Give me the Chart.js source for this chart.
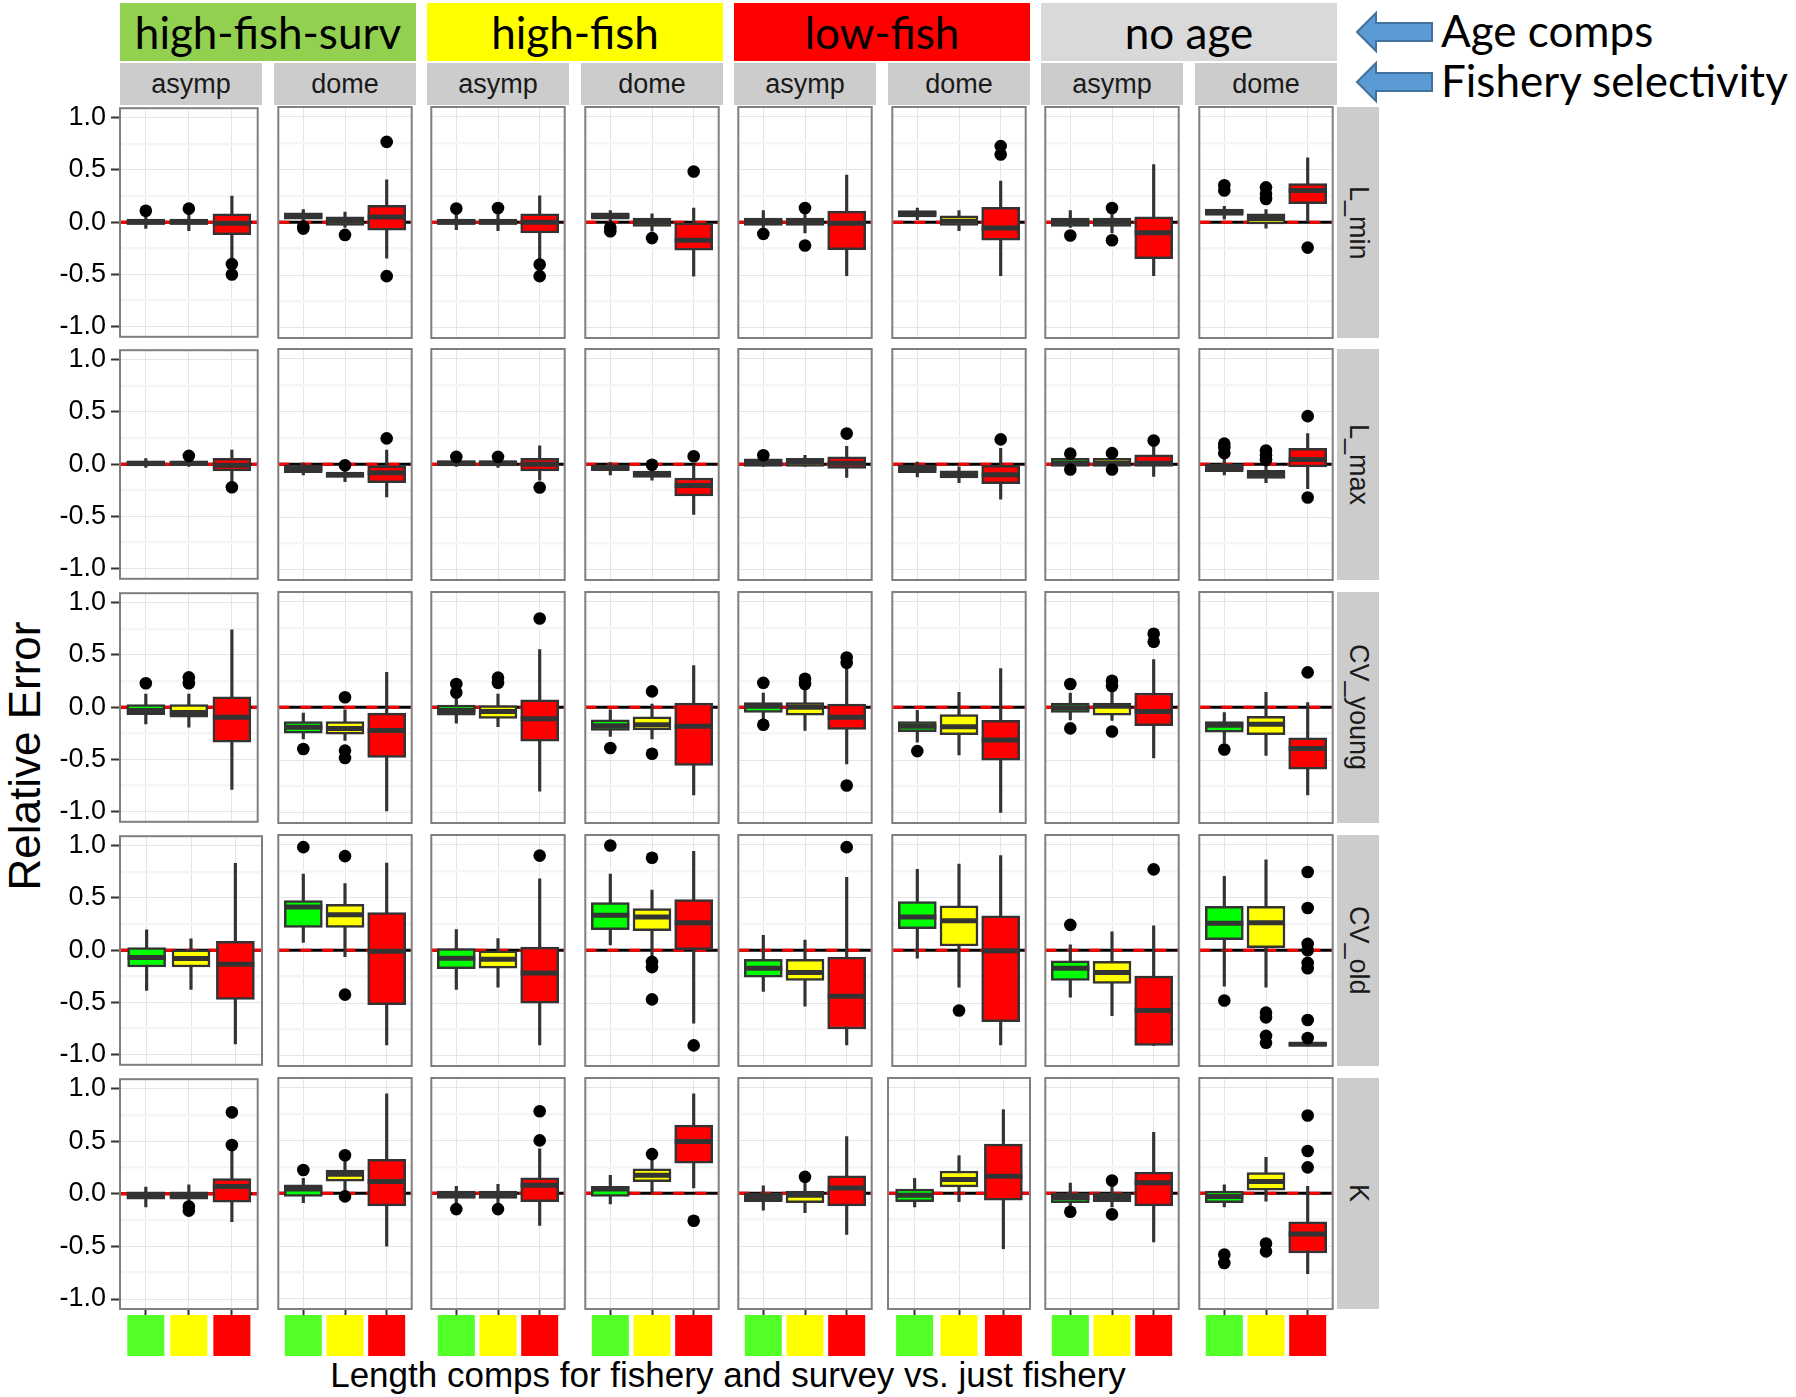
<!DOCTYPE html>
<html lang="en">
  <head>
    <meta charset="UTF-8" />
    <title>Relative error by age comps and selectivity</title>
    <script src="https://cdn.jsdelivr.net/npm/chart.js@4.4.1/dist/chart.umd.min.js"></script>
    <style>
      body { margin: 0; background: #fff; }
      #page {
        position: relative; width: 1796px; height: 1397px; overflow: hidden;
        font-family: "Liberation Sans", Arial, sans-serif; color: #000;
      }
      .abs { position: absolute; }
      .age {
        display: flex; align-items: center; justify-content: center;
        font-family: Lato, sans-serif; font-size: 44px; color: #000;
      }
      .strip {
        background: #cccccc; display: flex; align-items: center;
        justify-content: center; font-size: 27px; color: #1a1a1a;
      }
      .vstrip { writing-mode: vertical-rl; }
      .note { font-family: Lato, sans-serif; font-size: 44px; white-space: nowrap; }
      canvas { position: absolute; }
    </style>
  </head>
  <body>
    <div id="page">
      <!-- arrows next to the strip notes -->
      <svg class="abs" style="left: 1350px; top: 0" width="100" height="110">
        <polygon points="7,32 26,13 26,23 82,23 82,41 26,41 26,51"
          fill="#5b9bd5" stroke="#41719c" stroke-width="2" />
        <polygon points="7,82 26,63 26,73 82,73 82,91 26,91 26,101"
          fill="#5b9bd5" stroke="#41719c" stroke-width="2" />
      </svg>
      <div class="abs note" style="left: 1441px; top: 4px">Age comps</div>
      <div class="abs note" style="left: 1441px; top: 54px">Fishery selectivity</div>
    </div>

    <script>
      // ---- data ----
      const ageComps = ["high-fish-surv", "high-fish", "low-fish", "no age"];
      const selectivity = ["asymp", "dome"];
      const params = ["L_min", "L_max", "CV_young", "CV_old", "K"];
      // length comps: fishery+survey (green), fishery (yellow), just fishery (red)
      const lengthComps = [1, 2, 3];
      const yTicks = [-1, -0.75, -0.5, -0.25, 0, 0.25, 0.5, 0.75, 1];

      // one entry per panel (hfs asymp, hfs dome, hf asymp, hf dome, lf asymp, lf dome, na asymp, na dome)
      // each box: [lower whisker, q1, median, q3, upper whisker, [outliers]]
      const L_min = [
        [[-0.06, -0.02, 0.0, 0.03, 0.07, [0.11]], [-0.08, -0.02, 0.0, 0.03, 0.09, [0.13]], [-0.35, -0.12, -0.01, 0.08, 0.25, [-0.4, -0.5]]],
        [[0.0, 0.03, 0.06, 0.09, 0.12, [-0.04, -0.06]], [-0.05, -0.03, 0.01, 0.05, 0.095, [-0.12]], [-0.34, -0.075, 0.05, 0.16, 0.4, [0.76, -0.51]]],
        [[-0.07, -0.02, 0.0, 0.03, 0.08, [0.13]], [-0.08, -0.02, 0.0, 0.03, 0.08, [0.135]], [-0.35, -0.1, 0.0, 0.08, 0.25, [-0.4, -0.51]]],
        [[0.0, 0.03, 0.06, 0.09, 0.11, [-0.05, -0.085]], [-0.085, -0.04, 0.0, 0.04, 0.08, [-0.15]], [-0.51, -0.265, -0.17, 0.0, 0.135, [0.48]]],
        [[-0.05, -0.03, 0.0, 0.04, 0.11, [-0.11]], [-0.1, -0.03, 0.0, 0.04, 0.09, [0.135, -0.22]], [-0.505, -0.26, -0.01, 0.105, 0.445, []]],
        [[0.025, 0.05, 0.08, 0.11, 0.135, []], [-0.08, -0.03, 0.01, 0.06, 0.11, []], [-0.505, -0.17, -0.055, 0.14, 0.39, [0.72, 0.64]]],
        [[-0.05, -0.04, 0.0, 0.04, 0.11, [-0.125]], [-0.1, -0.04, 0.0, 0.04, 0.1, [0.135, -0.17]], [-0.505, -0.345, -0.1, 0.05, 0.545, []]],
        [[0.03, 0.065, 0.095, 0.125, 0.15, [0.35, 0.3]], [-0.055, -0.015, 0.035, 0.08, 0.12, [0.33, 0.27, 0.22]], [0.0, 0.175, 0.3, 0.365, 0.61, [-0.24]]],
      ];
      const L_max = [
        [[-0.03, -0.015, 0.01, 0.03, 0.055, []], [-0.02, -0.01, 0.01, 0.03, 0.05, [0.08]], [-0.165, -0.063, -0.01, 0.057, 0.135, [-0.22]]],
        [[-0.1, -0.08, -0.04, 0.0, 0.01, []], [-0.165, -0.125, -0.1, -0.075, -0.02, [-0.01]], [-0.31, -0.175, -0.08, -0.015, 0.135, [0.245]]],
        [[-0.02, -0.015, 0.01, 0.035, 0.05, [0.07]], [-0.03, -0.015, 0.01, 0.035, 0.05, [0.07]], [-0.15, -0.063, 0.0, 0.057, 0.175, [-0.22]]],
        [[-0.1, -0.06, -0.03, 0.0, 0.015, []], [-0.15, -0.125, -0.095, -0.065, -0.02, [-0.005]], [-0.475, -0.3, -0.2, -0.13, -0.005, [0.075]]],
        [[-0.02, -0.02, 0.01, 0.05, 0.07, [0.085]], [-0.02, -0.02, 0.02, 0.055, 0.085, []], [-0.125, -0.04, 0.01, 0.07, 0.17, [0.29]]],
        [[-0.12, -0.08, -0.04, 0.0, 0.02, []], [-0.175, -0.13, -0.095, -0.063, -0.025, []], [-0.33, -0.185, -0.1, -0.01, 0.15, [0.235]]],
        [[-0.02, -0.02, 0.01, 0.055, 0.08, [0.1, -0.05]], [-0.02, -0.02, 0.01, 0.055, 0.08, [0.105, -0.05]], [-0.115, -0.02, 0.01, 0.09, 0.17, [0.225]]],
        [[-0.1, -0.07, -0.03, 0.005, 0.07, [0.195, 0.16, 0.105]], [-0.175, -0.135, -0.095, -0.057, -0.01, [0.13, 0.085, 0.04]], [-0.23, -0.025, 0.045, 0.15, 0.29, [0.455, -0.315]]],
      ];
      const CV_young = [
        [[-0.16, -0.07, -0.03, 0.025, 0.125, [0.23]], [-0.19, -0.095, -0.05, 0.025, 0.125, [0.285, 0.23]], [-0.785, -0.335, -0.095, 0.1, 0.74, []]],
        [[-0.3, -0.245, -0.19, -0.135, -0.055, [-0.395]], [-0.315, -0.255, -0.2, -0.135, -0.025, [0.095, -0.41, -0.48]], [-0.98, -0.475, -0.22, -0.055, 0.33, []]],
        [[-0.15, -0.075, -0.03, 0.02, 0.125, [0.22, 0.14]], [-0.185, -0.105, -0.04, 0.015, 0.125, [0.28, 0.23]], [-0.795, -0.32, -0.11, 0.07, 0.545, [0.84]]],
        [[-0.275, -0.22, -0.175, -0.12, -0.025, [-0.385]], [-0.3, -0.215, -0.165, -0.09, 0.03, [0.15, -0.44]], [-0.83, -0.55, -0.18, 0.04, 0.395, []]],
        [[-0.12, -0.05, 0.01, 0.045, 0.135, [0.23, -0.165]], [-0.22, -0.075, 0.0, 0.045, 0.165, [0.27, 0.22]], [-0.535, -0.21, -0.095, 0.03, 0.365, [0.47, 0.42, -0.74]]],
        [[-0.33, -0.23, -0.18, -0.135, -0.03, [-0.415]], [-0.45, -0.26, -0.185, -0.07, 0.14, []], [-0.995, -0.5, -0.31, -0.125, 0.365, []]],
        [[-0.12, -0.05, -0.005, 0.04, 0.135, [0.22, -0.2]], [-0.125, -0.075, 0.01, 0.04, 0.16, [0.25, 0.2, -0.23]], [-0.48, -0.175, -0.04, 0.135, 0.45, [0.695, 0.62]]],
        [[-0.34, -0.235, -0.17, -0.135, -0.05, [-0.4]], [-0.455, -0.26, -0.16, -0.085, 0.14, []], [-0.83, -0.585, -0.39, -0.29, 0.045, [0.33]]],
      ];
      const CV_old = [
        [[-0.385, -0.16, -0.07, 0.025, 0.195, []], [-0.375, -0.16, -0.08, 0.005, 0.11, []], [-0.895, -0.47, -0.135, 0.085, 0.83, []]],
        [[0.075, 0.215, 0.41, 0.47, 0.72, [0.975]], [-0.06, 0.215, 0.335, 0.435, 0.63, [0.89, -0.42]], [-0.895, -0.515, -0.01, 0.355, 0.825, []]],
        [[-0.37, -0.175, -0.075, 0.015, 0.195, []], [-0.35, -0.17, -0.085, 0.0, 0.11, []], [-0.895, -0.5, -0.215, 0.03, 0.675, [0.895]]],
        [[0.05, 0.195, 0.33, 0.45, 0.72, [0.99]], [-0.06, 0.185, 0.315, 0.395, 0.57, [0.875, -0.11, -0.16, -0.465]], [-0.69, 0.005, 0.26, 0.48, 0.935, [-0.9]]],
        [[-0.39, -0.255, -0.17, -0.085, 0.14, []], [-0.53, -0.285, -0.21, -0.085, 0.095, []], [-0.895, -0.745, -0.435, -0.065, 0.69, [0.975]]],
        [[-0.075, 0.205, 0.315, 0.46, 0.765, []], [-0.35, 0.04, 0.28, 0.42, 0.815, [-0.57]], [-0.895, -0.675, -0.005, 0.325, 0.895, []]],
        [[-0.445, -0.285, -0.17, -0.1, 0.05, [0.24]], [-0.62, -0.315, -0.21, -0.105, 0.175, []], [-0.9, -0.9, -0.57, -0.245, 0.23, [0.765]]],
        [[-0.34, 0.1, 0.255, 0.415, 0.7, [-0.475]], [-0.35, 0.025, 0.26, 0.415, 0.855, [-0.59, -0.635, -0.81, -0.875]], [-0.905, -0.905, -0.89, -0.875, -0.875, [0.74, 0.4, 0.06, 0.0, -0.12, -0.17, -0.66, -0.83]]],
      ];
      const K = [
        [[-0.125, -0.05, -0.015, 0.02, 0.065, []], [-0.09, -0.05, -0.015, 0.02, 0.085, [-0.12, -0.16]], [-0.265, -0.08, 0.07, 0.145, 0.45, [0.775, 0.465]]],
        [[-0.09, -0.03, 0.04, 0.08, 0.14, [0.22]], [0.0, 0.115, 0.18, 0.22, 0.33, [0.36, -0.03]], [-0.5, -0.12, 0.11, 0.32, 0.94, []]],
        [[-0.105, -0.05, -0.015, 0.02, 0.065, [-0.15]], [-0.09, -0.05, -0.015, 0.02, 0.085, [-0.15]], [-0.305, -0.08, 0.075, 0.145, 0.42, [0.775, 0.5]]],
        [[-0.1, -0.03, 0.04, 0.065, 0.17, []], [0.0, 0.11, 0.17, 0.23, 0.34, [0.37]], [0.05, 0.285, 0.49, 0.645, 0.94, [-0.26]]],
        [[-0.16, -0.08, -0.04, 0.005, 0.07, []], [-0.185, -0.09, -0.02, 0.02, 0.095, [0.155]], [-0.39, -0.12, 0.05, 0.165, 0.535, []]],
        [[-0.13, -0.08, -0.02, 0.04, 0.14, []], [-0.08, 0.06, 0.13, 0.21, 0.355, []], [-0.525, -0.065, 0.16, 0.465, 0.79, []]],
        [[-0.12, -0.09, -0.04, 0.005, 0.095, [-0.175]], [-0.13, -0.08, -0.04, 0.005, 0.09, [0.12, -0.2]], [-0.46, -0.12, 0.1, 0.2, 0.575, []]],
        [[-0.13, -0.09, -0.03, 0.02, 0.08, [-0.58, -0.66]], [-0.075, 0.03, 0.11, 0.195, 0.34, [-0.475, -0.55]], [-0.76, -0.565, -0.385, -0.27, 0.065, [0.735, 0.4, 0.245]]],
      ];
      const allParams = [L_min, L_max, CV_young, CV_old, K];

      // ---- look ----
      const boxColors = ["#00ff00", "#ffff00", "#ff0000"];
      const keyColors = ["#52ff26", "#ffff00", "#ff0000"];
      const ageColors = ["#92d050", "#ffff00", "#ff0000", "#d9d9d9"];

      // panel grid (px)
      const PX = [120, 274, 427, 581, 734, 888, 1041, 1195];
      const PW = 142;
      const PY = [107, 349, 592, 835, 1078];
      const PH = 231;
      const PAD = 20;
      const AXIS_H = 50;

      const page = document.getElementById("page");

      function addDiv(cls, text, css) {
        const d = document.createElement("div");
        d.className = "abs " + cls;
        d.textContent = text;
        Object.assign(d.style, css);
        page.appendChild(d);
        return d;
      }

      // age comps header (spans two panels each)
      ageComps.forEach((name, a) => {
        const l = PX[a * 2];
        const r = PX[a * 2 + 1] + PW;
        addDiv("age", name, { left: l + "px", top: "3px", width: r - l + "px", height: "58px", background: ageColors[a] });
      });

      // selectivity strips
      PX.forEach((x, c) => {
        addDiv("strip", selectivity[c % 2], { left: x + "px", top: "63px", width: PW + "px", height: "42px" });
      });

      // parameter strips on the right
      params.forEach((p, r) => {
        addDiv("strip vstrip", p, { left: PX[7] + PW + "px", top: PY[r] + "px", width: "42px", height: PH + "px" });
      });

      addDiv("", "Relative Error", {
        left: "25px", top: "756px", fontSize: "44px", whiteSpace: "nowrap",
        transform: "translate(-50%, -50%) rotate(-90deg)",
      });
      addDiv("", "Length comps for fishery and survey vs. just fishery", {
        left: "728px", top: "1375px", fontSize: "35px", whiteSpace: "nowrap",
        transform: "translate(-50%, -50%)",
      });

      const isMajor = (v) => Math.abs(v * 2 - Math.round(v * 2)) < 1e-9;

      function drawPanel(row, col) {
        const boxes = allParams[row][col];
        const firstCol = col === 0;
        const lastRow = row === params.length - 1;

        const canvas = document.createElement("canvas");
        const left = firstCol ? 0 : PX[col] - 2;
        const width = firstCol ? PX[col] + PW + 2 : PW + 4;
        canvas.width = width;
        canvas.height = PAD + PH + (lastRow ? AXIS_H : PAD);
        canvas.style.left = left + "px";
        canvas.style.top = PY[row] - PAD + "px";
        page.appendChild(canvas);

        const outliers = [];
        boxes.forEach((b, k) => b[5].forEach((v) => outliers.push({ x: lengthComps[k], y: v })));

        const boxPlugin = {
          id: "boxplot",
          beforeDatasetsDraw(chart) {
            const { ctx, chartArea } = chart;
            const y0 = chart.scales.y.getPixelForValue(0);
            ctx.save();
            ctx.lineWidth = 3;
            ctx.beginPath();
            ctx.moveTo(chartArea.left, y0);
            ctx.lineTo(chartArea.right, y0);
            ctx.strokeStyle = "#000";
            ctx.stroke();
            ctx.setLineDash([11, 11]);
            ctx.strokeStyle = "#ff0000";
            ctx.stroke();
            ctx.restore();
          },
          afterDatasetDraw(chart, args) {
            if (args.index !== 1) return;
            const { ctx } = chart;
            const ys = chart.scales.y;
            ctx.save();
            ctx.strokeStyle = "#333333";
            ctx.lineWidth = 5;
            chart.getDatasetMeta(1).data.forEach((bar, k) => {
              const y = ys.getPixelForValue(boxes[k][2]);
              ctx.beginPath();
              ctx.moveTo(bar.x - bar.width / 2, y);
              ctx.lineTo(bar.x + bar.width / 2, y);
              ctx.stroke();
            });
            ctx.restore();
          },
          afterDraw(chart) {
            const { ctx, chartArea } = chart;
            ctx.save();
            ctx.strokeStyle = "#7f7f7f";
            ctx.lineWidth = 2;
            ctx.strokeRect(chartArea.left, chartArea.top, chartArea.width, chartArea.height);
            if (lastRow) {
              // coloured squares in place of x tick labels
              lengthComps.forEach((v, k) => {
                const x = chart.scales.x.getPixelForValue(v);
                ctx.fillStyle = keyColors[k];
                ctx.fillRect(x - 18.5, chartArea.bottom + 6, 37, 41);
              });
            }
            ctx.restore();
          },
        };

        new Chart(canvas.getContext("2d"), {
          type: "bar",
          data: {
            datasets: [
              {
                type: "scatter",
                data: outliers,
                backgroundColor: "#000",
                pointRadius: 6.3,
                borderWidth: 0,
                order: 0,
              },
              {
                data: boxes.map((b, k) => ({ x: lengthComps[k], y: [b[1], b[3]] })),
                backgroundColor: boxColors,
                borderColor: "#333333",
                borderWidth: 2.5,
                borderSkipped: false,
                barThickness: 38,
                grouped: false,
                order: 1,
              },
              {
                data: boxes.map((b, k) => ({ x: lengthComps[k], y: [b[0], b[4]] })),
                backgroundColor: "#333333",
                borderWidth: 0,
                barThickness: 2.5,
                grouped: false,
                order: 2,
              },
            ],
          },
          options: {
            responsive: false,
            animation: false,
            events: [],
            devicePixelRatio: 1,
            layout: {
              padding: { top: PAD, bottom: lastRow ? 0 : PAD, left: firstCol ? 0 : 2, right: 2 },
            },
            plugins: { legend: { display: false }, tooltip: { enabled: false } },
            scales: {
              x: {
                type: "linear",
                min: 0.4,
                max: 3.6,
                offset: false,
                afterBuildTicks: (s) => { s.ticks = lengthComps.map((v) => ({ value: v })); },
                afterFit: (s) => { s.height = lastRow ? AXIS_H : 0; },
                ticks: { display: false },
                border: { display: false },
                grid: {
                  offset: false,
                  color: "#e5e5e5",
                  lineWidth: 1,
                  drawTicks: lastRow,
                  tickLength: 6,
                  tickColor: "#333333",
                  tickWidth: 2,
                },
              },
              y: {
                type: "linear",
                min: -1.095,
                max: 1.09,
                afterBuildTicks: (s) => { s.ticks = yTicks.map((v) => ({ value: v })); },
                afterFit: (s) => { s.width = firstCol ? PX[0] : 0; },
                border: { display: false },
                ticks: {
                  display: firstCol,
                  autoSkip: false,
                  padding: 5,
                  color: "#000",
                  font: { family: "Liberation Sans", size: 27 },
                  callback: (v) => (isMajor(v) ? v.toFixed(1) : ""),
                },
                grid: {
                  color: (c) => (isMajor(c.tick.value) ? "#e5e5e5" : "#f5f5f5"),
                  lineWidth: (c) => (isMajor(c.tick.value) ? 1 : 2.5),
                  drawTicks: firstCol,
                  tickLength: 9,
                  tickWidth: 2,
                  tickColor: (c) => (isMajor(c.tick.value) ? "#333333" : "rgba(0,0,0,0)"),
                },
              },
            },
          },
          plugins: [boxPlugin],
        });
      }

      for (let r = 0; r < params.length; r++) {
        for (let c = 0; c < PX.length; c++) drawPanel(r, c);
      }
    </script>
  </body>
</html>
